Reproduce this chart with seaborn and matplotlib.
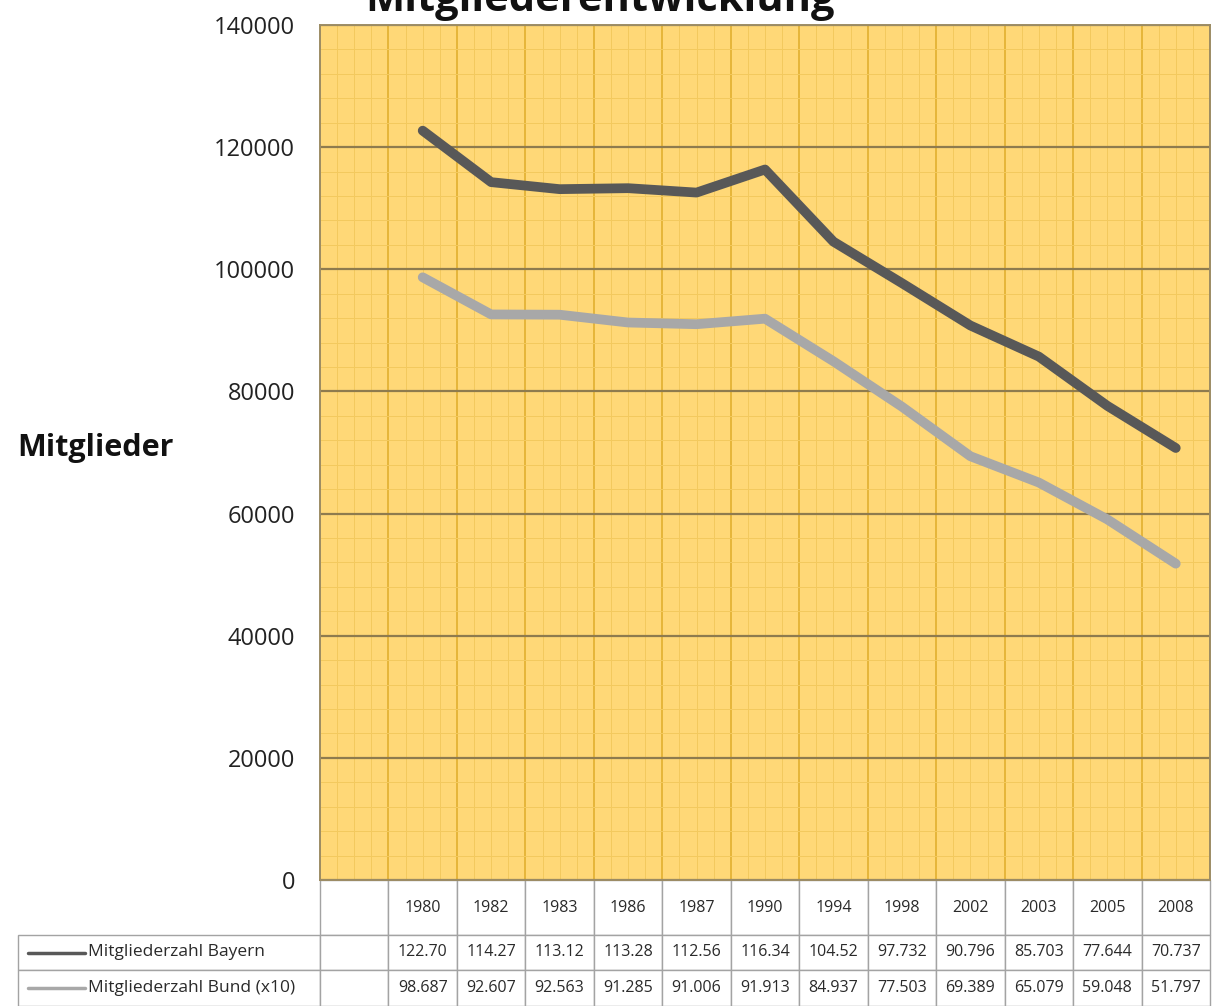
import numpy as np
import pandas as pd
import matplotlib.pyplot as plt
import seaborn as sns
from matplotlib.ticker import MultipleLocator, NullFormatter

# data --------------------------------------------------------------------------
years = ["1980", "1982", "1983", "1986", "1987", "1990",
         "1994", "1998", "2002", "2003", "2005", "2008"]
bayern = [122700, 114270, 113120, 113280, 112560, 116340,
          104520, 97732, 90796, 85703, 77644, 70737]
bund_x10 = [98687, 92607, 92563, 91285, 91006, 91913,
            84937, 77503, 69389, 65079, 59048, 51797]
bayern_labels = ["122.70", "114.27", "113.12", "113.28", "112.56", "116.34",
                 "104.52", "97.732", "90.796", "85.703", "77.644", "70.737"]
bund_labels = ["98.687", "92.607", "92.563", "91.285", "91.006", "91.913",
               "84.937", "77.503", "69.389", "65.079", "59.048", "51.797"]
series_names = ["Mitgliederzahl Bayern", "Mitgliederzahl Bund (x10)"]
y_ticks = [0, 20000, 40000, 60000, 80000, 100000, 120000, 140000]

# first category column of the chart is empty
df = pd.DataFrame({
    "pos": np.arange(1, len(years) + 1),
    "Jahr": years,
    series_names[0]: bayern,
    series_names[1]: bund_x10,
})
long = df.melt(id_vars=["pos", "Jahr"], var_name="Reihe", value_name="Mitglieder")

sns.set_style("white")
plt.rcParams["font.family"] = ["Open Sans", "DejaVu Sans"]

W, H = 1223, 1006
fig = plt.figure(figsize=(W / 100, H / 100), dpi=100)
ax = fig.add_axes([320 / W, 126 / H, 890 / W, 855 / H])

colors = {series_names[0]: "#585858", series_names[1]: "#A8A8A8"}
ax.set_facecolor("#FFD877")
sns.lineplot(data=long, x="pos", y="Mitglieder", hue="Reihe", palette=colors,
             linewidth=7, legend=False, ax=ax, sort=False,
             solid_capstyle="round", solid_joinstyle="round")

ax.set_xlim(-0.5, len(years) + 0.5)
ax.set_ylim(0, 140000)
ax.set_yticks(y_ticks)
ax.set_yticklabels([str(t) for t in y_ticks], fontsize=17, color="#222222")
ax.tick_params(axis="y", length=0, pad=18)
ax.set_xticks(np.arange(-0.5, len(years) + 1, 1.0))
ax.xaxis.set_major_formatter(NullFormatter())
ax.tick_params(axis="x", length=0)
ax.xaxis.set_minor_locator(MultipleLocator(0.25))
ax.yaxis.set_minor_locator(MultipleLocator(4000))
ax.set_axisbelow(True)
ax.grid(axis="x", which="minor", color="#F3C95E", lw=0.7)
ax.grid(axis="y", which="minor", color="#F3C95E", lw=0.7)
ax.grid(axis="x", which="major", color="#E6B63A", lw=1.4)
ax.grid(axis="y", which="major", color="#8E7B4E", lw=1.6)
ax.set_xlabel("")
ax.set_ylabel("")
for s in ax.spines.values():
    s.set_color("#9C8C64")
    s.set_linewidth(1.4)

# data table below the plot ------------------------------------------------------
col_w = 890 / (len(years) + 1)
cell_text = [[""] * 2 + years,
             [""] * 2 + bayern_labels,
             [""] * 2 + bund_labels]
tbl = ax.table(cellText=cell_text,
               colWidths=[302] + [col_w] * (len(years) + 1),
               cellLoc="center",
               bbox=[(18 - 320) / 890, -126 / 855, 1192 / 890, 126 / 855])
tbl.auto_set_font_size(False)
tbl.set_fontsize(11.5)
row_h = [55, 35, 36]
for (r, c), cell in tbl.get_celld().items():
    cell.set_height(row_h[r])
    cell.set_edgecolor("#A3A3A3")
    cell.set_linewidth(1.0)
    cell.get_text().set_color("#2A2A2A")
    if r == 0 and c == 0:
        cell.visible_edges = ""
        cell.set_facecolor("none")

# legend keys in the table
for i, name in enumerate(series_names):
    cell = tbl[i + 1, 0]
    cell.PAD = 70 / 302
    cell.get_text().set_text(name)
    cell.get_text().set_ha("left")
    cell.get_text().set_fontsize(12.5)
    cell._loc = "left"
    yc = -(55 + sum(row_h[1:i + 1]) + row_h[i + 1] / 2) / 855
    ax.plot([(28 - 320) / 890, (85 - 320) / 890], [yc, yc],
            transform=ax.transAxes, clip_on=False,
            color=colors[name], lw=2.5)

fig.text(95 / W, 1 - 448 / H, "Mitglieder", fontsize=22, fontweight="bold",
         ha="center", va="center", color="#111111")
fig.text(600 / W, 1 - 11 / H, "Mitgliederentwicklung", fontsize=30,
         fontweight="bold", ha="center", va="baseline", color="#111111")

fig.savefig("out.png", dpi=100, facecolor="white")
